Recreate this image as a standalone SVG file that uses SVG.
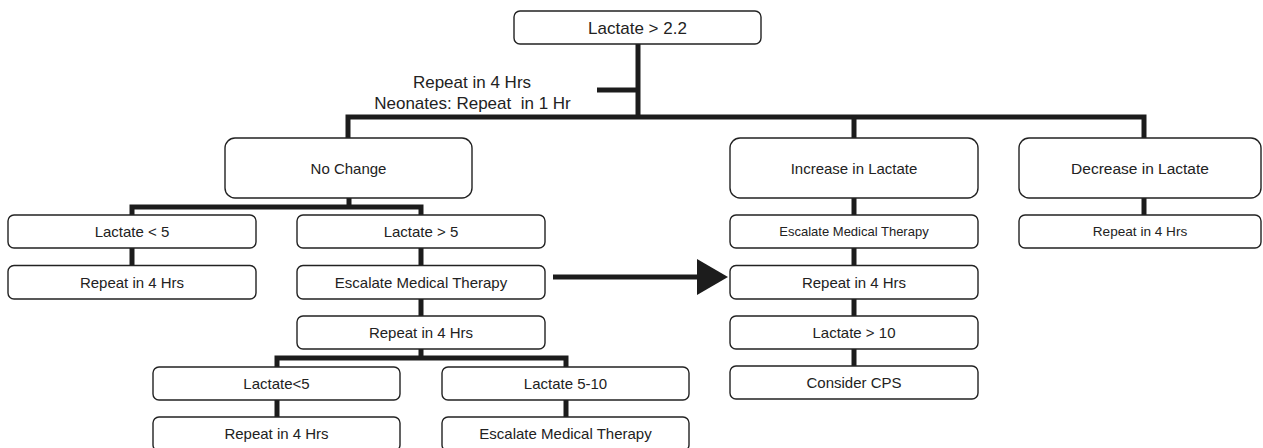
<svg xmlns="http://www.w3.org/2000/svg" width="1263" height="448" viewBox="0 0 1263 448">
<style>
.box{fill:#fff;stroke:#222;stroke-width:1.4}
.t{font-family:"Liberation Sans",Arial,sans-serif;font-size:15px;fill:#222;text-anchor:middle}
.s{font-size:13px}
.big{font-size:17px}
.c{fill:none;stroke:#1c1c1c;stroke-width:5;stroke-linejoin:miter;stroke-linecap:butt}
</style>
<rect width="1263" height="448" fill="#fff"/>
<g id="connectors">
<path class="c" d="M638,44V117M597,90H640.5M348,138V117H1144V138M854,117V138"/>
<path class="c" d="M349,198V207M132,215V207H421V215M132,248V265.5M421,248V265.5M421,299V316M421,349V358M277,367V358H566V367M277,400V417M566,400V417"/>
<path class="c" d="M854,198V215M854,248V265.5M854,299V316M854,349V366M1144,198V215"/>
<path class="c" d="M553,277H699"/>
<polygon points="697,259 728,277 697,295" fill="#1c1c1c"/>
</g>
<g id="n-top"><rect class="box" x="514" y="11" width="247" height="33" rx="6"/><text class="t big" x="637.5" y="34">Lactate &gt; 2.2</text></g>
<g id="n-label"><text class="t big" x="472" y="87.5">Repeat in 4 Hrs</text><text class="t big" x="472.5" y="108.5" xml:space="preserve">Neonates: Repeat  in 1 Hr</text></g>
<g id="n-nochange"><rect class="box" x="225" y="138" width="247" height="60" rx="10"/><text class="t" x="348.5" y="173.5">No Change</text></g>
<g id="n-increase"><rect class="box" x="730" y="138" width="248" height="60" rx="10"/><text class="t" x="854" y="173.5">Increase in Lactate</text></g>
<g id="n-decrease"><rect class="box" x="1019" y="138" width="242" height="60" rx="10"/><text class="t" x="1140" y="173.5" style="font-size:15.5px">Decrease in Lactate</text></g>
<g id="n-lt5"><rect class="box" x="8" y="215" width="248" height="33" rx="6"/><text class="t" x="132" y="237">Lactate &lt; 5</text></g>
<g id="n-gt5"><rect class="box" x="297" y="215" width="248" height="33" rx="6"/><text class="t" x="421" y="237">Lactate &gt; 5</text></g>
<g id="n-esc-r"><rect class="box" x="730" y="215" width="248" height="33" rx="6"/><text class="t s" x="854" y="236">Escalate Medical Therapy</text></g>
<g id="n-rep-d"><rect class="box" x="1019" y="215" width="242" height="33" rx="6"/><text class="t" x="1140" y="236" style="font-size:13.6px">Repeat in 4 Hrs</text></g>
<g id="n-rep-l"><rect class="box" x="8" y="265.5" width="248" height="33.5" rx="6"/><text class="t" x="132" y="288">Repeat in 4 Hrs</text></g>
<g id="n-esc-m"><rect class="box" x="297" y="265.5" width="248" height="33.5" rx="6"/><text class="t" x="421" y="288">Escalate Medical Therapy</text></g>
<g id="n-rep-r"><rect class="box" x="730" y="265.5" width="248" height="33.5" rx="6"/><text class="t" x="854" y="288">Repeat in 4 Hrs</text></g>
<g id="n-rep-m"><rect class="box" x="297" y="316" width="248" height="33" rx="6"/><text class="t" x="421" y="338">Repeat in 4 Hrs</text></g>
<g id="n-gt10"><rect class="box" x="730" y="316" width="248" height="33" rx="6"/><text class="t" x="854" y="338">Lactate &gt; 10</text></g>
<g id="n-lt5b"><rect class="box" x="153" y="367" width="247" height="33" rx="6"/><text class="t" x="276.5" y="389">Lactate&lt;5</text></g>
<g id="n-5to10"><rect class="box" x="442" y="367" width="247" height="33" rx="6"/><text class="t" x="565.5" y="389">Lactate 5-10</text></g>
<g id="n-cps"><rect class="box" x="730" y="366" width="248" height="33" rx="6"/><text class="t" x="854" y="388">Consider CPS</text></g>
<g id="n-rep-b"><rect class="box" x="153" y="417" width="247" height="34" rx="6"/><text class="t" x="276.5" y="439">Repeat in 4 Hrs</text></g>
<g id="n-esc-b"><rect class="box" x="442" y="417" width="247" height="34" rx="6"/><text class="t" x="565.5" y="439">Escalate Medical Therapy</text></g>
</svg>
